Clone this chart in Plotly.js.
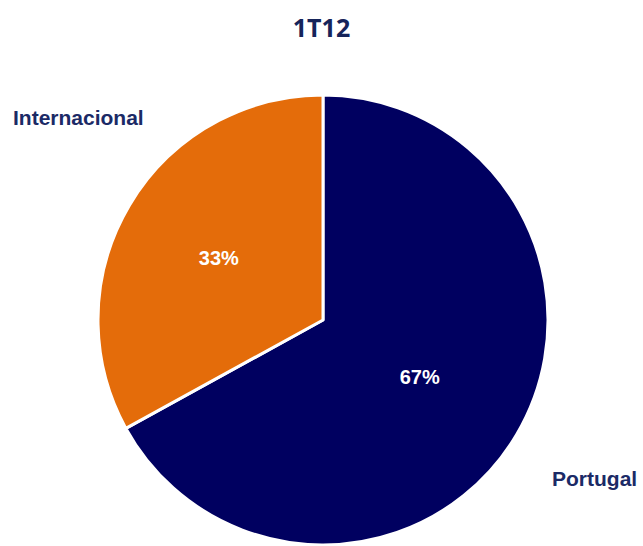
<!DOCTYPE html>
<html>
<head>
<meta charset="utf-8">
<script src="https://cdn.plot.ly/plotly-3.0.1.min.js"></script>
<style>html,body{margin:0;padding:0;background:#fff;}#chart{width:643px;height:546px;}</style>
</head>
<body>
<div id="chart"></div>
<script>
const categories = ["Portugal", "Internacional"];
const values = [67, 33];
const colors = ["#000060", "#E46C0A"];
const chartTitle = "1T12";

const trace = {
  type: "pie",
  labels: categories,
  values: values,
  sort: false,
  direction: "clockwise",
  rotation: 0,
  marker: { colors: colors, line: { color: "#ffffff", width: 3 } },
  textinfo: "percent",
  texttemplate: "%{percent:.0%}",
  textposition: "inside",
  insidetextorientation: "horizontal",
  insidetextfont: { family: "Liberation Sans, Arial, sans-serif", size: 20, color: "#ffffff", weight: "bold" },
  hoverinfo: "none",
  showlegend: false,
  domain: { x: [98/643, 548/643], y: [1 - 545/546, 1 - 95/546] }
};

const layout = {
  width: 643, height: 546,
  margin: { l: 0, r: 0, t: 0, b: 0 },
  paper_bgcolor: "#ffffff",
  title: { text: "<b>" + chartTitle + "</b>", x: 0.5, xanchor: "center", y: 1 - 28/546, yanchor: "middle",
           font: { family: "Open Sans, sans-serif", size: 25, color: "#16245A" } },
  annotations: [
    { text: "<b>" + categories[1] + "</b>", xref: "paper", yref: "paper", x: 11/643, y: 1 - 117/546,
      xanchor: "left", yanchor: "middle", showarrow: false,
      font: { family: "Liberation Sans, Arial, sans-serif", size: 21, color: "#1B2A66" } },
    { text: "<b>" + categories[0] + "</b>", xref: "paper", yref: "paper", x: 639/643, y: 1 - 478/546,
      xanchor: "right", yanchor: "middle", showarrow: false,
      font: { family: "Liberation Sans, Arial, sans-serif", size: 21, color: "#1B2A66" } }
  ]
};

Plotly.newPlot("chart", [trace], layout, { displayModeBar: false, staticPlot: true });
</script>
</body>
</html>
